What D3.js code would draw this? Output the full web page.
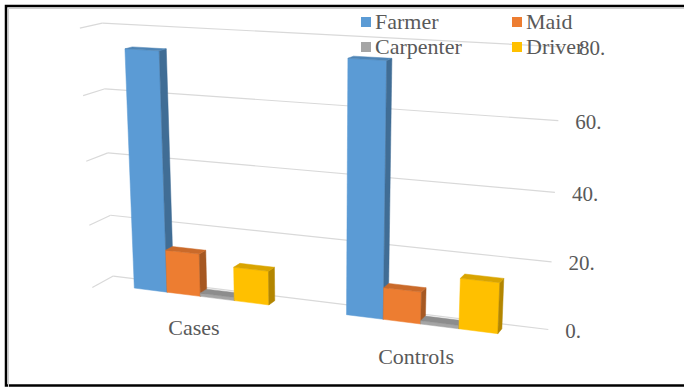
<!DOCTYPE html>
<html>
<head>
<meta charset="utf-8">
<script src="https://cdn.jsdelivr.net/npm/d3@7"></script>
<style>
	body { margin: 0; background: #fff; }
	svg text { font-family: "Liberation Serif", "Times New Roman", serif; fill: #595959; }
</style>
</head>
<body>
<div id="chartDiv"></div>
<script>
// data
const categories = ["Cases", "Controls"];
const seriesNames = ["Farmer", "Maid", "Carpenter", "Driver"];
const casesValues = [74, 13.4, 1, 10.5];
const controlsValues = [75, 9.6, 1, 15];
const valueTicks = [0, 20, 40, 60, 80];
const tickLabels = ["0.", "20.", "40.", "60.", "80."];
const seriesColors = ["#5B9BD5", "#ED7D31", "#A5A5A5", "#FFC000"];

// perspective camera (excel style 3d column)
const cam = {
	cx: 321, cy: 265, focal: 1427,
	yaw: -21.6 * Math.PI / 180,
	pitch: 16.6 * Math.PI / 180,
	pos: [487.3, 293.1, -806.6]
};
// world box: x along categories, y up (values), z depth (0 front, worldD back wall)
const worldW = 309.2, worldH = 176.1, worldD = 28.7;
const barZ0 = 9.46, barZ1 = 19.24;

function dot(a, b){ return a[0]*b[0] + a[1]*b[1] + a[2]*b[2]; }

function makeProjector(c){
	const sa = Math.sin(c.yaw), ca = Math.cos(c.yaw);
	const sp = Math.sin(c.pitch), cp = Math.cos(c.pitch);
	const fwd = [sa*cp, -sp, ca*cp];
	const up = [sa*sp, cp, ca*sp];
	const right = [ca, 0, -sa];
	return function(p){
		const d = [p[0]-c.pos[0], p[1]-c.pos[1], p[2]-c.pos[2]];
		const dz = dot(d, fwd);
		return [c.cx + c.focal*dot(d, right)/dz, c.cy - c.focal*dot(d, up)/dz];
	};
}
const project = makeProjector(cam);

const svg = d3.select("#chartDiv").append("svg")
	.attr("width", 684)
	.attr("height", 387);

// scales
const xCat = d3.scaleBand().domain(categories).range([0, worldW]);
const xSer = d3.scaleBand().domain(seriesNames).range([0, xCat.bandwidth()])
	.paddingInner(0).paddingOuter(1.09);
const yVal = d3.scaleLinear().domain([0, 80]).range([0, worldH]);
const colorScale = d3.scaleOrdinal().domain(seriesNames).range(seriesColors);

const line = d3.line();
const poly = pts => line(pts.map(project)) + "Z";

// gridlines on back wall and left side wall
const gridG = svg.append("g").attr("class", "grid");
gridG.selectAll("path.back")
	.data(valueTicks)
	.enter().append("path")
	.attr("class", "back")
	.attr("d", t => line([[0, yVal(t), worldD], [worldW, yVal(t), worldD]].map(project)))
	.attr("fill", "none").attr("stroke", "#d9d9d9").attr("stroke-width", 1.2);
gridG.selectAll("path.side")
	.data(valueTicks)
	.enter().append("path")
	.attr("class", "side")
	.attr("d", t => line([[0, yVal(t), 0], [0, yVal(t), worldD]].map(project)))
	.attr("fill", "none").attr("stroke", "#d9d9d9").attr("stroke-width", 1.2);

// value labels to the right of the back wall
svg.append("g").selectAll("text")
	.data(valueTicks)
	.enter().append("text")
	.attr("x", t => project([worldW, yVal(t), worldD])[0] + 17)
	.attr("y", t => project([worldW, yVal(t), worldD])[1] + 1)
	.attr("dy", "0.35em")
	.style("font-size", "21px")
	.text((t, i) => tickLabels[i]);

// bars
const valuesByCat = { Cases: casesValues, Controls: controlsValues };
const bars = [];
categories.forEach(c => {
	seriesNames.forEach((s, i) => {
		const x0 = xCat(c) + xSer(s);
		bars.push({ cat: c, series: s, x0: x0, x1: x0 + xSer.bandwidth(), v: yVal(valuesByCat[c][i]) });
	});
});
bars.sort((a, b) => a.x0 - b.x0);

const barG = svg.append("g").selectAll("g")
	.data(bars)
	.enter().append("g");

barG.append("path")
	.attr("d", b => poly([[b.x0, 0, barZ0], [b.x1, 0, barZ0], [b.x1, b.v, barZ0], [b.x0, b.v, barZ0]]))
	.attr("fill", b => colorScale(b.series))
	.attr("stroke", b => colorScale(b.series)).attr("stroke-width", 0.5);
barG.append("path")
	.attr("d", b => poly([[b.x1, 0, barZ0], [b.x1, 0, barZ1], [b.x1, b.v, barZ1], [b.x1, b.v, barZ0]]))
	.attr("fill", b => d3.rgb(colorScale(b.series)).darker(1))
	.attr("stroke", b => d3.rgb(colorScale(b.series)).darker(1)).attr("stroke-width", 0.5);
barG.append("path")
	.attr("d", b => poly([[b.x0, b.v, barZ0], [b.x1, b.v, barZ0], [b.x1, b.v, barZ1], [b.x0, b.v, barZ1]]))
	.attr("fill", b => d3.rgb(colorScale(b.series)).darker(0.45))
	.attr("stroke", b => d3.rgb(colorScale(b.series)).darker(0.45)).attr("stroke-width", 0.5);

// category labels under front edge of floor
svg.append("g").selectAll("text")
	.data(categories)
	.enter().append("text")
	.attr("x", c => project([xCat(c) + xCat.bandwidth()/2, 0, 0])[0])
	.attr("y", c => project([xCat(c) + xCat.bandwidth()/2, 0, 0])[1] + 35)
	.attr("text-anchor", "middle")
	.style("font-size", "22px")
	.text(c => c);

// legend, two columns
const legend = svg.append("g").selectAll("g")
	.data(seriesNames)
	.enter().append("g")
	.attr("transform", (s, i) => `translate(${361 + (i % 2) * 151}, ${17 + Math.floor(i / 2) * 25})`);
legend.append("rect")
	.attr("width", 10).attr("height", 10)
	.attr("fill", s => colorScale(s));
legend.append("text")
	.attr("x", 14).attr("y", 11.5)
	.style("font-size", "22px")
	.text(s => s);

// frame
svg.append("rect")
	.attr("x", 6).attr("y", 6).attr("width", 700).attr("height", 379.5)
	.attr("fill", "none").attr("stroke", "#000").attr("stroke-width", 2.5);
svg.append("path")
	.attr("d", "M8.5,700V8.5H700")
	.attr("fill", "none").attr("stroke", "#cfcfcf").attr("stroke-width", 1);
</script>
</body>
</html>
